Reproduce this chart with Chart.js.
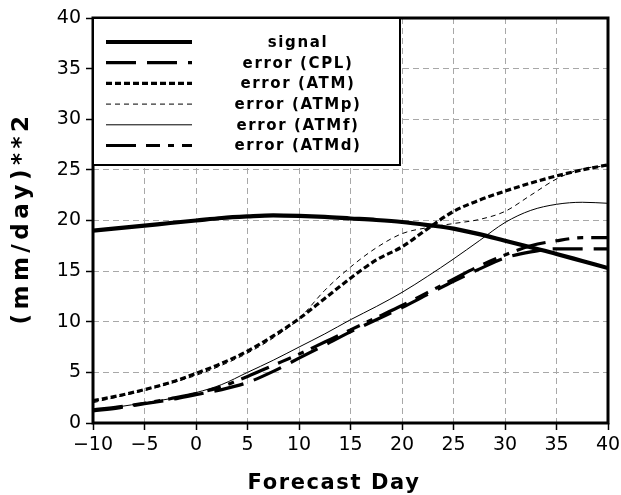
<!DOCTYPE html>
<html><head><meta charset="utf-8">
<script src="https://cdn.jsdelivr.net/npm/chart.js@4"></script>
<style>html,body{margin:0;padding:0;background:#fff}#wrap{width:621px;height:495px}</style>
</head><body><div id="wrap"><canvas id="c" width="621" height="495"></canvas></div>
<script>
const days = [-10,-7.5,-5,-2.5,0,2.5,5,7.5,10,12.5,15,17.5,20,22.5,25,27.5,30,32.5,35,37.5,40];
const signal  = [19.0,19.25,19.5,19.75,20.0,20.25,20.4,20.5,20.45,20.35,20.2,20.05,19.85,19.55,19.2,18.65,18.0,17.35,16.7,16.0,15.3];
const errCPL  = [1.2,1.5,1.9,2.3,2.8,3.3,4.0,5.1,6.4,7.7,9.0,10.2,11.4,12.7,14.0,15.2,16.3,16.9,17.2,17.2,17.2];
const errATM  = [2.2,2.7,3.3,4.0,4.9,5.9,7.1,8.6,10.3,12.3,14.3,16.1,17.4,19.2,20.9,22.0,22.9,23.7,24.4,25.0,25.5];
const errATMp = [2.0,2.6,3.2,3.9,4.7,5.7,6.9,8.4,10.3,13.1,15.4,17.3,18.7,19.3,19.7,20.1,20.9,22.5,24.1,25.1,25.4];
const errATMf = [1.3,1.6,2.0,2.4,3.0,3.8,5.0,6.2,7.5,8.8,10.2,11.5,12.9,14.5,16.2,18.0,19.8,21.0,21.6,21.8,21.7];
const errATMd = [1.3,1.6,1.95,2.4,2.9,3.6,4.6,5.7,6.8,8.0,9.2,10.4,11.6,12.9,14.2,15.5,16.6,17.5,18.0,18.3,18.3];
const seriesNames = ['signal','error (CPL)','error (ATM)','error (ATMp)','error (ATMf)','error (ATMd)'];
const xTickValues = [-10,-5,0,5,10,15,20,25,30,35,40];
const xTickLabels = ['\u221210','\u22125','0','5','10','15','20','25','30','35','40'];
const yTickValues = [0,5,10,15,20,25,30,35,40];
const yTickLabels = ['0','5','10','15','20','25','30','35','40'];
const xTitle = 'Forecast Day';
const yTitle = '(mm/day)**2';

const styles = [
  {w:4.2, dash:[]},
  {w:3.2, dash:[30,11]},
  {w:3.2, dash:[6,3]},
  {w:1, dash:[5,4]},
  {w:1, dash:[]},
  {w:3.2, dash:[30,10,14,8,6,8]}
];
const allSeries = [signal, errCPL, errATM, errATMp, errATMf, errATMd];
const datasets = allSeries.map((s,i)=>({
  label: seriesNames[i],
  data: days.map((d,j)=>({x:d, y:s[j]})),
  borderColor:'#000', borderWidth:styles[i].w, borderDash:styles[i].dash,
  pointRadius:0, fill:false, cubicInterpolationMode:'monotone', borderCapStyle:'butt'
}));

const FONT = '"DejaVu Sans", "Liberation Sans", sans-serif';

const decor = {
  id:'decor',
  afterDatasetsDraw(chart){
    const {ctx, chartArea:a} = chart;
    ctx.save();
    ctx.setLineDash([]);
    ctx.strokeStyle='#000';
    ctx.lineWidth=3;
    ctx.strokeRect(a.left, a.top, a.right-a.left, a.bottom-a.top);
    const lx=a.left, ly=a.top, lw=307, lh=147;
    ctx.fillStyle='#fff';
    ctx.fillRect(lx, ly, lw, lh);
    ctx.lineWidth=2;
    ctx.strokeRect(lx, ly, lw, lh);
    ctx.fillStyle='#000';
    ctx.font='bold 15px '+FONT;
    try{ctx.letterSpacing='1.6px';}catch(e){}
    ctx.textAlign='center'; ctx.textBaseline='middle';
    for(let i=0;i<seriesNames.length;i++){
      const y = ly + 24 + i*20.7;
      ctx.beginPath();
      ctx.lineWidth=styles[i].w;
      ctx.setLineDash(styles[i].dash);
      ctx.moveTo(lx+13, y); ctx.lineTo(lx+99, y);
      ctx.stroke();
      ctx.setLineDash([]);
      ctx.fillText(seriesNames[i], lx+205, y+1);
    }
    ctx.restore();
  },
  afterDraw(chart){
    const {ctx} = chart;
    ctx.save();
    ctx.fillStyle='#000';
    ctx.font='bold 21px '+FONT;
    try{ctx.letterSpacing='1.6px';}catch(e){}
    ctx.textAlign='center'; ctx.textBaseline='middle';
    ctx.fillText(xTitle, 334, 484);
    ctx.translate(22, 218);
    ctx.rotate(-Math.PI/2);
    ctx.font='bold 23px '+FONT;
    try{ctx.letterSpacing='4.5px';}catch(e){}
    ctx.fillText(yTitle, 0, 0);
    ctx.restore();
  }
};

new Chart(document.getElementById('c'), {
  type:'line',
  data:{datasets},
  options:{
    responsive:false, animation:false, devicePixelRatio:1,
    layout:{padding:{left:33, top:18, right:13, bottom:0}},
    plugins:{legend:{display:false}, tooltip:{enabled:false}},
    scales:{
      x:{type:'linear', min:-10, max:40,
        afterBuildTicks:s=>{s.ticks=xTickValues.map(v=>({value:v}));},
        afterFit:s=>{s.height=72; s.paddingLeft=0; s.paddingRight=0;},
        ticks:{color:'#000', font:{family:FONT, size:19}, padding:4, maxRotation:0, autoSkip:false,
          callback:(v)=>xTickLabels[xTickValues.indexOf(v)]},
        grid:{color:'#a8a8a8', lineWidth:1, tickColor:'#000', tickWidth:1.5, tickLength:7, tickBorderDash:[]},
        border:{display:false, dash:[6,4]}
      },
      y:{min:0, max:40,
        afterBuildTicks:s=>{s.ticks=yTickValues.map(v=>({value:v}));},
        afterFit:s=>{s.width=60; s.paddingTop=0; s.paddingBottom=0;},
        ticks:{color:'#000', font:{family:FONT, size:19}, padding:5, autoSkip:false,
          callback:(v)=>yTickLabels[yTickValues.indexOf(v)]},
        grid:{color:'#a8a8a8', lineWidth:1, tickColor:'#000', tickWidth:1.5, tickLength:7, tickBorderDash:[]},
        border:{display:false, dash:[6,4]}
      }
    }
  },
  plugins:[decor]
});
</script>
</body></html>
